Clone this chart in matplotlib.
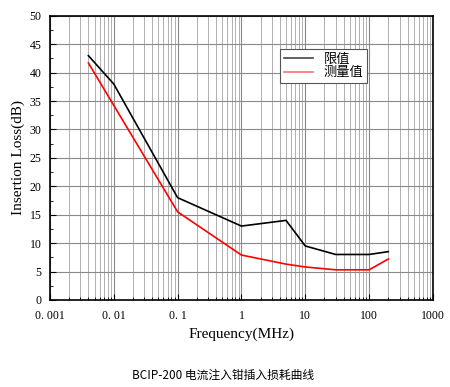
import matplotlib
matplotlib.use("Agg")
import matplotlib.pyplot as plt
from matplotlib.ticker import LogLocator, MultipleLocator, NullFormatter

# data
freq_limit = [0.004, 0.01, 0.1, 1, 5, 10, 30, 100, 200]
loss_limit = [43.0, 38.0, 18.0, 13.0, 14.0, 9.5, 8.0, 8.0, 8.5]
freq_meas = [0.004, 0.1, 1, 5, 10, 30, 100, 200]
loss_meas = [41.7, 15.5, 7.9, 6.3, 5.8, 5.3, 5.3, 7.2]

xticks = [0.001, 0.01, 0.1, 1, 10, 100, 1000]
xtick_labels = ["0. 001", "0. 01", "0. 1", "1", "10", "100", "1000"]
yticks = [0, 5, 10, 15, 20, 25, 30, 35, 40, 45, 50]

serif = ["Liberation Serif", "DejaVu Serif"]
cjk = ["Noto Sans CJK SC", "DejaVu Sans"]

fig = plt.figure(figsize=(4.5, 3.87), dpi=100)
ax = fig.add_axes([0.111, 0.225, 0.851, 0.734])

ax.plot(freq_limit, loss_limit, color="black", lw=1.2, label="限值")
ax.plot(freq_meas, loss_meas, color="#ff0000", lw=1.2, label="测量值")

ax.set_xscale("log")
ax.set_xlim(0.001, 1000)
ax.set_ylim(0, 50)
ax.set_xticks(xticks)
ax.set_xticklabels(xtick_labels, fontfamily=serif, fontsize=8.5)
ax.xaxis.set_minor_locator(LogLocator(base=10, subs=range(2, 10), numticks=20))
ax.xaxis.set_minor_formatter(NullFormatter())
ax.set_yticks(yticks)
ax.set_yticklabels([str(v) for v in yticks], fontfamily=serif, fontsize=8.5)
ax.yaxis.set_minor_locator(MultipleLocator(2.5))

ax.tick_params(which="both", direction="in", top=False, right=False)
ax.tick_params(which="major", length=4)
ax.tick_params(which="minor", length=2.5)
ax.tick_params(axis="x", which="major", pad=7)
ax.tick_params(axis="y", which="major", pad=6)

ax.grid(True, which="major", axis="both", color="#8a8a8a", lw=0.8)
ax.grid(True, which="minor", axis="x", color="#b0b0b0", lw=0.7)
ax.set_axisbelow(True)
for s in ax.spines.values():
    s.set_linewidth(1.2)

ax.set_xlabel("Frequency(MHz)", fontfamily=serif, fontsize=11, labelpad=4)
ax.set_ylabel("Insertion Loss(dB)", fontfamily=serif, fontsize=11, labelpad=3)

leg = ax.legend(loc="upper left", bbox_to_anchor=(0.60, 0.885), borderaxespad=0,
                fancybox=False, framealpha=1, edgecolor="#555555",
                prop={"family": cjk, "size": 9.5}, handlelength=2.2,
                borderpad=0.3, labelspacing=0.05, handletextpad=0.8)
leg.get_frame().set_linewidth(0.8)
leg.get_lines()[1].set_color("#ff7070")
leg.get_lines()[0].set_color("#444444")

fig.text(0.496, 0.03, "BCIP-200 电流注入钳插入损耗曲线", ha="center", va="center",
         fontfamily=cjk, fontsize=8.5)

fig.savefig("out.png", dpi=100, facecolor="white")
